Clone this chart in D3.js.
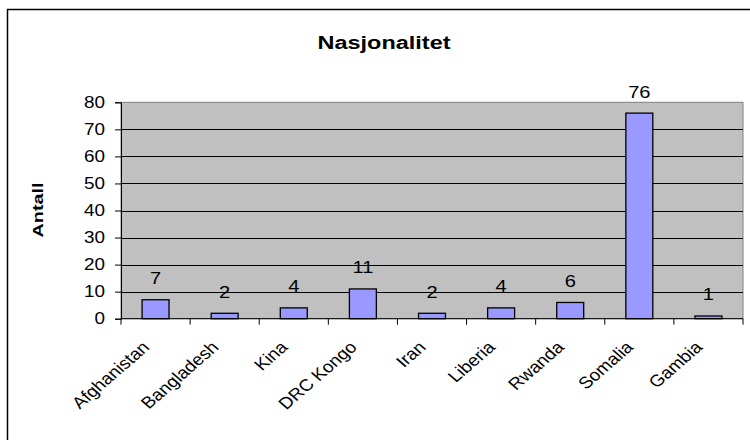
<!DOCTYPE html>
<html>
<head>
<meta charset="utf-8">
<script src="https://cdn.jsdelivr.net/npm/d3@7"></script>
<style>
  html, body { margin: 0; padding: 0; background: #fff; }
  svg { display: block; font-family: "Liberation Sans", Arial, sans-serif; }
</style>
</head>
<body>
<div id="chart"></div>
<script>
// Nationality counts
const categories = ["Afghanistan", "Bangladesh", "Kina", "DRC Kongo", "Iran", "Liberia", "Rwanda", "Somalia", "Gambia"];
const counts = [7, 2, 4, 11, 2, 4, 6, 76, 1];
const yTicks = [0, 10, 20, 30, 40, 50, 60, 70, 80];
const chartTitle = "Nasjonalitet";
const yTitle = "Antall";

const W = 750, H = 440;
const plot = { left: 121, right: 743, top: 102.3, bottom: 318.7 };
const SX = 1.18; // horizontal widening of the text

const svg = d3.select("#chart").append("svg")
  .attr("width", W).attr("height", H);

// chart frame (runs off the right and bottom edges)
svg.append("rect")
  .attr("x", 7.5).attr("y", 9.5)
  .attr("width", 760).attr("height", 450)
  .attr("fill", "#fff").attr("stroke", "#000").attr("stroke-width", 1.5);

const x = d3.scaleBand()
  .domain(categories)
  .range([plot.left, plot.right])
  .paddingInner(0.61)
  .paddingOuter(0.305);

const y = d3.scaleLinear()
  .domain([0, 80])
  .range([plot.bottom, plot.top]);

// plot area
svg.append("rect")
  .attr("x", plot.left).attr("y", plot.top)
  .attr("width", plot.right - plot.left).attr("height", plot.bottom - plot.top)
  .attr("fill", "#c0c0c0").attr("stroke", "#808080").attr("stroke-width", 1);

// gridlines
svg.append("g")
  .selectAll("line")
  .data(yTicks.filter(d => d > 0 && d < 80))
  .join("line")
  .attr("x1", plot.left).attr("x2", plot.right)
  .attr("y1", d => Math.round(y(d)) + 0.5).attr("y2", d => Math.round(y(d)) + 0.5)
  .attr("stroke", "#000").attr("stroke-width", 1);

// bars
svg.append("g")
  .selectAll("rect")
  .data(categories)
  .join("rect")
  .attr("x", d => x(d))
  .attr("y", (d, i) => y(counts[i]))
  .attr("width", x.bandwidth())
  .attr("height", (d, i) => y(0) - y(counts[i]))
  .attr("fill", "#9999ff")
  .attr("stroke", "#000").attr("stroke-width", 1.3);

// value labels
svg.append("g")
  .selectAll("text")
  .data(categories)
  .join("text")
  .attr("transform", (d, i) =>
    `translate(${x(d) + x.bandwidth() / 2},${y(counts[i]) - 15.5}) scale(${SX},1)`)
  .attr("text-anchor", "middle")
  .attr("font-size", 17)
  .text((d, i) => counts[i]);

// y axis line and ticks
const yAxis = d3.axisLeft(y).tickValues(yTicks).tickSize(6).tickFormat("");
const gy = svg.append("g")
  .attr("transform", `translate(${plot.left},0)`)
  .call(yAxis);
gy.select(".domain").attr("stroke", "#000");
gy.selectAll(".tick line").attr("stroke", "#000");

// y tick labels
svg.append("g")
  .selectAll("text")
  .data(yTicks)
  .join("text")
  .attr("transform", d => `translate(105,${y(d)}) scale(${SX},1)`)
  .attr("dy", "0.36em")
  .attr("text-anchor", "end")
  .attr("font-size", 16)
  .text(d => d);

// x axis with ticks at category boundaries
const boundaries = categories.map(d => x(d) - (x.step() - x.bandwidth()) / 2)
  .concat([plot.right]);
svg.append("line")
  .attr("x1", plot.left).attr("x2", plot.right)
  .attr("y1", plot.bottom).attr("y2", plot.bottom)
  .attr("stroke", "#000");
svg.append("g")
  .selectAll("line")
  .data(boundaries)
  .join("line")
  .attr("x1", d => d).attr("x2", d => d)
  .attr("y1", plot.bottom).attr("y2", plot.bottom + 6)
  .attr("stroke", "#000");

// category labels, rotated
svg.append("g")
  .selectAll("text")
  .data(categories)
  .join("text")
  .attr("transform", d =>
    `translate(${x(d) + x.bandwidth() / 2 - 5},${plot.bottom + 29.5}) scale(1.15,1) rotate(-45)`)
  .attr("text-anchor", "end")
  .attr("font-size", 16.5)
  .text(d => d);

// title
svg.append("text")
  .attr("x", 384 - 66.5).attr("y", 48.5)
  .attr("textLength", 133).attr("lengthAdjust", "spacingAndGlyphs")
  .attr("font-size", 18).attr("font-weight", "bold")
  .text(chartTitle);

// y axis title
svg.append("text")
  .attr("transform", "translate(43,237.5) rotate(-90)")
  .attr("textLength", 55).attr("lengthAdjust", "spacingAndGlyphs")
  .attr("font-size", 15).attr("font-weight", "bold")
  .text(yTitle);
</script>
</body>
</html>
